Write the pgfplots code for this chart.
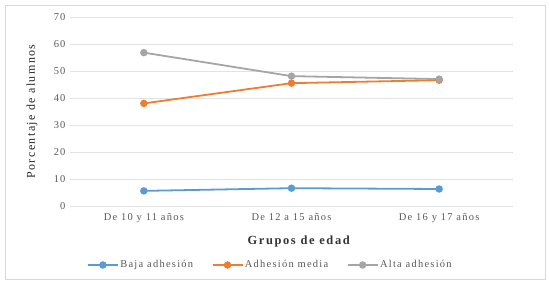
\documentclass[border=0pt]{standalone}
\usepackage{pgfplots}
\pgfplotsset{compat=1.18}
\usepackage{fontspec}
\setmainfont{Liberation Serif}
\newfontfamily\wide[LetterSpace=12]{Liberation Serif}
\newfontfamily\widebf[LetterSpace=13]{Liberation Serif}
\definecolor{cblue}{HTML}{5B9BD5}
\definecolor{corange}{HTML}{ED7D31}
\definecolor{cgray}{HTML}{A5A5A5}
\definecolor{ctick}{HTML}{595959}
\begin{document}
\begin{tikzpicture}
\begin{axis}[
  at={(0,0)}, anchor=south west,
  scale only axis, width=443bp, height=189bp,
  xmin=-0.5, xmax=2.5, ymin=0, ymax=70,
  xtick={0,1,2}, xticklabels={De 10 y 11 años, De 12 a 15 años, De 16 y 17 años},
  ytick={0,10,...,70},
  ymajorgrids, grid style={draw=gray!22, line width=0.8pt},
  axis line style={draw=none}, tick style={draw=none},
  ticklabel style={font=\wide\fontsize{10.5}{12}\selectfont, text=ctick},
  /pgf/number format/assume math mode=true,
  yticklabel style={xshift=-1bp},
  xticklabel style={yshift=-4bp},
  xlabel={\textbf{Grupos de edad}},
  xlabel style={font=\widebf\fontsize{12.5}{14}\selectfont, text=black!80, at={(rel axis cs:0.5,0)}, anchor=center, yshift=-36bp, xshift=8bp},
  legend style={at={(rel axis cs:0.463,0)}, yshift=-59bp, xshift=-5bp, anchor=center, draw=none, legend columns=3, font=\wide\fontsize{10.5}{12}\selectfont, text=ctick, inner xsep=0pt, /tikz/every even column/.append style={column sep=17bp}, nodes={inner xsep=1.5bp}},
  legend image code/.code={\draw[#1] (0bp,0bp) -- (30bp,0bp); \draw[#1, mark repeat=2, mark phase=2] plot coordinates {(0bp,0bp) (15bp,0bp) (30bp,0bp)};},
  every axis plot/.append style={line width=1.8pt, mark=*, mark size=2.8pt},
]
\addplot[cblue, mark options={fill=cblue}] coordinates {(0,5.6) (1,6.6) (2,6.3)};
\addlegendentry{Baja adhesión}
\addplot[corange, mark options={fill=corange}] coordinates {(0,38) (1,45.5) (2,46.6)};
\addlegendentry{Adhesión media}
\addplot[cgray, mark options={fill=cgray}] coordinates {(0,56.8) (1,48.1) (2,47.0)};
\addlegendentry{Alta adhesión}
\end{axis}
\node[rotate=90, font=\wide\fontsize{12}{14}\selectfont, text=black!85] at (-38bp,94.5bp) {Porcentaje de alumnos};
\draw[gray!30, line width=0.8pt] (-65bp,-73bp) rectangle (475bp,201bp);
\useasboundingbox (-70bp,-76bp) rectangle (479bp,206bp);
\end{tikzpicture}
\end{document}
